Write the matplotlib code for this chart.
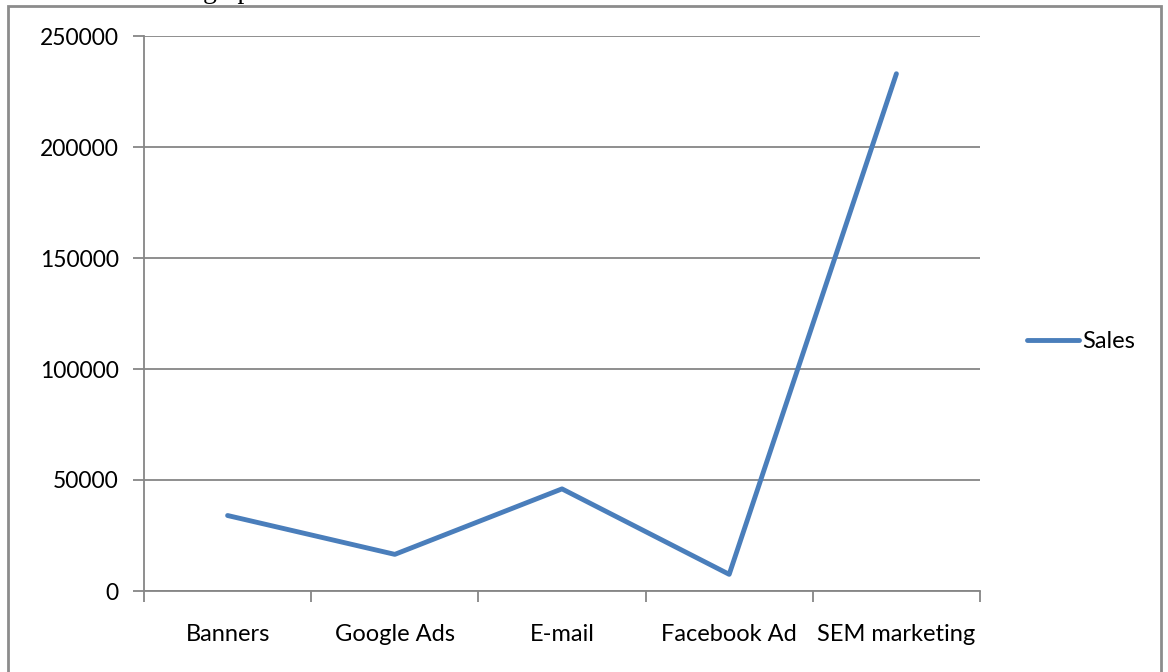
import matplotlib
matplotlib.use("Agg")
import matplotlib.pyplot as plt
from matplotlib.patches import Rectangle

categories = ["Banners", "Google Ads", "E-mail", "Facebook Ad", "SEM marketing"]
sales = [34000, 16500, 46000, 7500, 233000]
yticks = [0, 50000, 100000, 150000, 200000, 250000]
ytick_labels = ["0", "50000", "100000", "150000", "200000", "250000"]

plt.rcParams['font.family'] = ['Lato', 'DejaVu Sans']
W, H = 1168, 672
fig = plt.figure(figsize=(W / 100, H / 100), dpi=100)

# outer chart border (bottom edge lies outside picture)
fig.patches.append(Rectangle((8 / W, -0.05), (1161 - 8) / W, (H - 6) / H + 0.05,
                             transform=fig.transFigure, fill=False,
                             edgecolor='#8c8c8c', linewidth=2))
# text of the page above the chart, mostly cut off at the top edge
fig.text(203 / W, (H + 2) / H, "graph", family='Liberation Serif', fontsize=20,
         ha='left', va='baseline', color='black')

ax = fig.add_axes([144 / W, (H - 591) / H, (980 - 144) / W, (591 - 36) / H])
x = list(range(len(categories)))
line, = ax.plot(x, sales, color='#4a7ebb', linewidth=3.5, solid_capstyle='round',
                solid_joinstyle='round', label='Sales')

ax.set_xlim(-0.5, len(categories) - 0.5)
ax.set_ylim(0, 250000)
ax.set_yticks(yticks)
ax.set_yticklabels(ytick_labels)
ax.grid(axis='y', color='#868686', linewidth=1.3)
ax.set_axisbelow(True)

ax.set_xticks([i - 0.5 for i in range(len(categories) + 1)])
ax.set_xticklabels([])
ax.set_xticks(x, minor=True)
ax.set_xticklabels(categories, minor=True)
ax.tick_params(axis='x', which='major', length=8, width=1.3, color='#868686', direction='out')
ax.tick_params(axis='x', which='minor', length=0, pad=24, labelsize=17)
ax.tick_params(axis='y', length=8, width=1.3, color='#868686', direction='out', pad=10, labelsize=16.5)

for s in ['top', 'right']:
    ax.spines[s].set_visible(False)
for s in ['left', 'bottom']:
    ax.spines[s].set_color('#868686')
    ax.spines[s].set_linewidth(1.3)

fig.legend(handles=[line], labels=['Sales'], loc='center left',
           bbox_to_anchor=(1018 / W, (H - 342) / H), frameon=False,
           fontsize=17, handlelength=2.2, handletextpad=0.1, borderaxespad=0)

fig.savefig("out.png", dpi=100)
